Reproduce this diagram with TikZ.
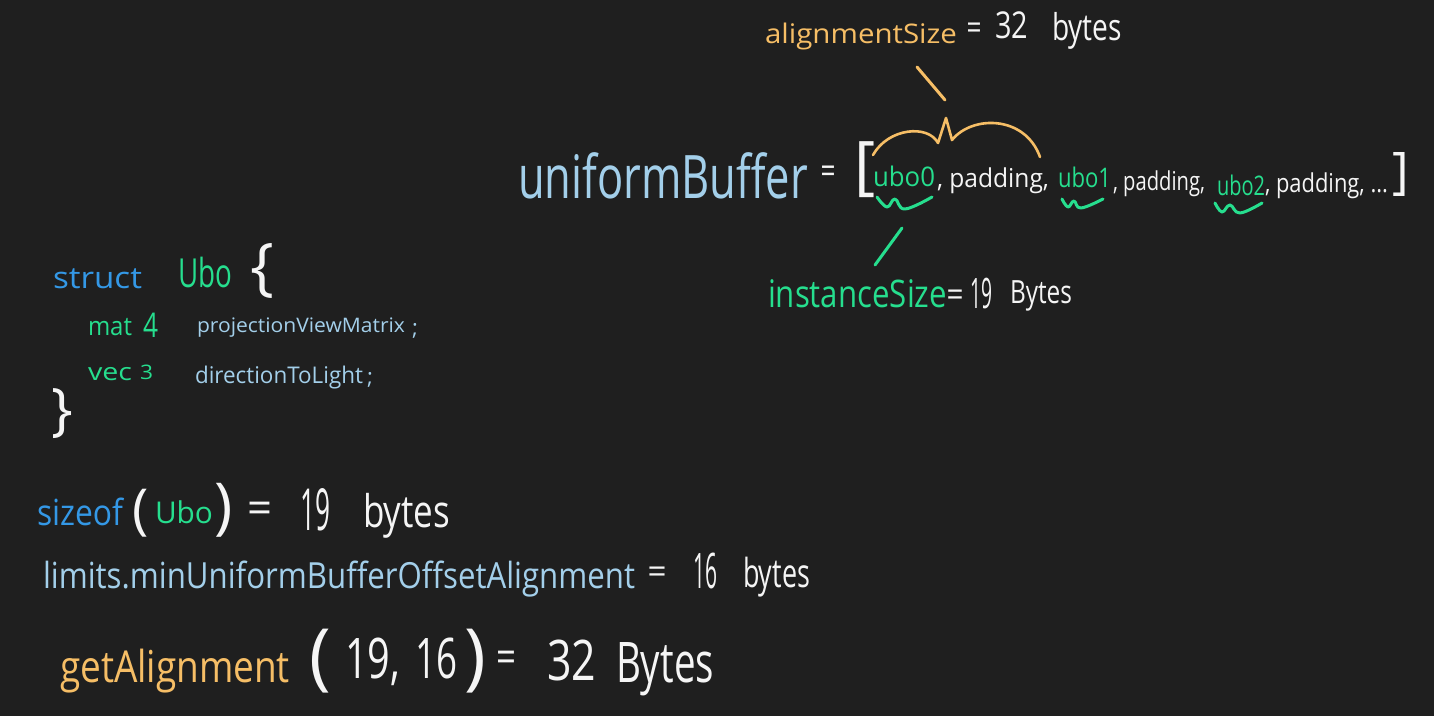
\documentclass[tikz,border=0pt]{standalone}
\usepackage{fontspec}
\setmainfont{Open Sans}
\usepackage{graphicx}
\definecolor{bg}{RGB}{31,31,31}
\definecolor{lblue}{RGB}{163,207,234}
\definecolor{dblue}{RGB}{52,152,230}
\definecolor{grn}{RGB}{38,222,142}
\definecolor{org}{RGB}{246,190,102}
\definecolor{wht}{RGB}{245,245,245}
\newcommand\fitw[2]{\resizebox{#1pt}{\height}{#2}}
\newcommand\fith[2]{\resizebox*{!}{#1pt}{#2}}
\begin{document}
\begin{tikzpicture}[x=1pt,y=-1pt,
  txt/.style={anchor=base west,inner sep=0pt,outer sep=0pt},
  sym/.style={anchor=center,inner sep=0pt,outer sep=0pt},
  fs/.style={font=\fontsize{#1}{#1}\selectfont},
  stroke/.style={line width=3pt,line cap=round,line join=round}]
\fill[bg] (0,0) rectangle (1434,716);
\useasboundingbox (0,0) rectangle (1434,716);

% ---- top: alignmentSize
\node[txt,fs=27,text=org] (alsz) at (765,43) {\fitw{192}{alignmentSize}};
\node[sym,fs=34,text=wht] (aleq) at (974,31) {\fitw{15}{=}};
\node[txt,fs=37,text=wht] (al32) at (995,38) {\fitw{33}{32}};
\node[txt,fs=37,text=wht] (albytes) at (1052,40) {\fitw{70}{bytes}};

% ---- uniformBuffer line
\node[txt,fs=60,text=lblue] (ub) at (518,198) {\fitw{290}{uniformBuffer}};
\node[sym,fs=36,text=wht] (ubeq) at (828,175) {\fitw{15}{=}};
\node[sym,fs=40,text=wht] (lbr) at (865,170) {\fith{56}{[}};
\node[txt,fs=27,text=grn] (u0) at (873,186) {\fitw{62}{ubo0}};
\node[txt,fs=26,text=wht] (p0) at (937,187) {\fitw{112}{, padding,}};
\node[txt,fs=27,text=grn] (u1) at (1058,187) {\fitw{53}{ubo1}};
\node[txt,fs=26,text=wht] (p1) at (1113,190) {\fitw{92}{, padding,}};
\node[txt,fs=27,text=grn] (u2) at (1217,195) {\fitw{48}{ubo2}};
\node[txt,fs=26,text=wht] (p2) at (1265,192) {\fitw{123}{, padding, ...}};
\node[sym,fs=40,text=wht] (rbr) at (1401,174) {\fith{44}{]}};

% brace over ubo0, padding
\draw[stroke,line width=2.6pt,org] (873,155) .. controls (888,128) and (928,124) .. (938,143)
  -- (946,118) -- (952,140) .. controls (972,115) and (1025,115) .. (1040,157);
\coordinate (brtop) at (945,100);
\coordinate (altail) at (917,67);
\draw[stroke,org] (altail) -- (brtop);

% squiggles
\draw[stroke,grn] plot[smooth,tension=0.7] coordinates {(877,197) (887,207) (895,199) (905,209) (932,197)};
\draw[stroke,grn] plot[smooth,tension=0.7] coordinates {(1062,199) (1068,207) (1074,201) (1081,208) (1103,199)};
\draw[stroke,grn] plot[smooth,tension=0.7] coordinates {(1215,203) (1222,212) (1230,205) (1240,213) (1262,203)};
\coordinate (sqbot) at (902,228);
\coordinate (istop) at (875,265);
\draw[stroke,grn] (sqbot) -- (istop);

% instanceSize
\node[txt,fs=38,text=grn] (isz) at (768,307) {\fitw{179}{instanceSize}};
\node[sym,fs=34,text=wht] (iseq) at (955,298) {\fitw{17}{=}};
\node[txt,fs=42,text=wht] (is19) at (970,308) {\fitw{22}{19}};
\node[txt,fs=32,text=wht] (isbytes) at (1010,303) {\fitw{62}{Bytes}};

% ---- struct
\node[txt,fs=30,text=dblue] (kstruct) at (53,288) {\fitw{89}{struct}};
\node[txt,fs=40,text=grn] (sname) at (178,287) {\fitw{54}{Ubo}};
\node[sym,fs=40,text=wht] (lcb) at (262,271) {\fith{55}{\{}};
\node[txt,fs=26,text=grn] (tmat) at (88,335) {\fitw{44}{mat}};
\node[txt,fs=34,text=grn] (tmat4) at (143,337) {\fitw{15}{4}};
\node[txt,fs=20,text=lblue] (fpvm) at (197,332) {\fitw{208}{projectionViewMatrix}};
\node[txt,fs=22,text=lblue] (sc1) at (412,335) {;};
\node[txt,fs=24,text=grn] (tvec) at (88,380) {\fitw{44}{vec}};
\node[txt,fs=20,text=grn] (tvec3) at (140,379) {\fitw{13}{3}};
\node[txt,fs=23,text=lblue] (fdtl) at (195,383) {\fitw{168}{directionToLight}};
\node[txt,fs=22,text=lblue] (sc2) at (367,384) {;};
\node[sym,fs=40,text=wht] (rcb) at (62,414) {\fith{50}{\}}};

% ---- sizeof
\node[txt,fs=36,text=dblue] (szof) at (37,525) {\fitw{86}{sizeof}};
\node[sym,fs=40,text=wht] (lp1) at (141,513) {\fith{48}{(}};
\node[txt,fs=30,text=grn] (szubo) at (155,523) {\fitw{58}{Ubo}};
\node[sym,fs=40,text=wht] (rp1) at (224,510) {\fith{54}{)}};
\node[sym,fs=44,text=wht] (szeq) at (260,513) {\fitw{25}{=}};
\node[txt,fs=58,text=wht] (sz19) at (300,530) {\fitw{30}{19}};
\node[txt,fs=45,text=wht] (szbytes) at (363,527) {\fitw{87}{bytes}};

% ---- limits
\node[txt,fs=36,text=lblue] (lim) at (43,588) {\fitw{592}{limits.minUniformBufferOffsetAlignment}};
\node[sym,fs=34,text=wht] (limeq) at (657,575) {\fitw{19}{=}};
\node[txt,fs=49,text=wht] (lim16) at (693,588) {\fitw{24}{16}};
\node[txt,fs=40,text=wht] (limbytes) at (743,587) {\fitw{67}{bytes}};

% ---- getAlignment
\node[txt,fs=44,text=org] (ga) at (60,682) {\fitw{230}{getAlignment}};
\node[sym,fs=40,text=wht] (lp2) at (320,661) {\fith{64}{(}};
\node[txt,fs=56,text=wht] (ga19) at (345,678) {\fitw{55}{19,}};
\node[txt,fs=56,text=wht] (ga16) at (415,678) {\fitw{42}{16}};
\node[sym,fs=40,text=wht] (rp2) at (475,661) {\fith{64}{)}};
\node[sym,fs=44,text=wht] (gaeq) at (506,662) {\fitw{20}{=}};
\node[txt,fs=56,text=wht] (ga32) at (547,680) {\fitw{49}{32}};
\node[txt,fs=56,text=wht] (gabytes) at (616,682) {\fitw{98}{Bytes}};
\end{tikzpicture}
\end{document}
